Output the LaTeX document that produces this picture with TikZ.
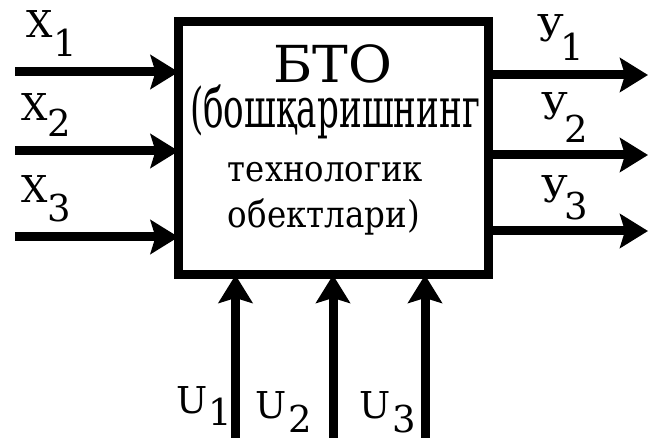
\documentclass[tikz,border=0pt]{standalone}
\usepackage{fontspec}
\usepackage{graphicx}
\setmainfont{DejaVu Serif}
\usetikzlibrary{arrows.meta}

\tikzset{
  blockbox/.style={draw, line width=9pt, minimum width=309.5pt, minimum height=253.5pt,
    outer sep=0pt, inner sep=0pt},
  flow/.style={line width=9pt, -{Stealth[length=28pt, width=34pt, inset=5pt]}},
  lbl/.style={inner sep=0pt, outer sep=0pt, anchor=base west, font=\fontsize{37}{37}\selectfont},
  txt/.style={inner sep=0pt, outer sep=0pt, anchor=base}
}

\begin{document}
\begin{tikzpicture}[x=1pt, y=-1pt]
  \useasboundingbox (0,0) rectangle (648,438);

  % the object block
  \node[blockbox] (B) at (333.25,148.25) {};

  % text inside the block
  \node[txt] (t1) at (332.5,83)
    {\resizebox{119pt}{\height}{\fontsize{51}{51}\selectfont БТО}};
  \node[txt] (t2) at (335,128)
    {\resizebox{290pt}{\height}{\fontsize{55}{55}\selectfont (бошқаришнинг}};
  \node[txt] (t3) at (325.5,182)
    {\resizebox{195pt}{\height}{\fontsize{36}{36}\selectfont технологик}};
  \node[txt] (t4) at (324,228)
    {\resizebox{192pt}{\height}{\fontsize{37}{37}\selectfont обектлари)}};

  % input ends
  \coordinate (x1) at (15,72);
  \coordinate (x2) at (15,151);
  \coordinate (x3) at (15,237);
  \draw[flow] (x1) -- (x1 -| B.west);
  \draw[flow] (x2) -- (x2 -| B.west);
  \draw[flow] (x3) -- (x3 -| B.west);

  % output ends
  \coordinate (y1) at (648,75);
  \coordinate (y2) at (648,155);
  \coordinate (y3) at (648,231);
  \draw[flow] (y1 -| B.east) -- (y1);
  \draw[flow] (y2 -| B.east) -- (y2);
  \draw[flow] (y3 -| B.east) -- (y3);

  % control inputs from below
  \coordinate (u1) at (235.5,438);
  \coordinate (u2) at (333,438);
  \coordinate (u3) at (425,438);
  \draw[flow] (u1) -- (u1 |- B.south);
  \draw[flow] (u2) -- (u2 |- B.south);
  \draw[flow] (u3) -- (u3 |- B.south);

  % signal labels
  \node[lbl] (lx1) at (27,38) {X\raisebox{-19pt}{1}};
  \node[lbl] (lx2) at (21,121) {X\raisebox{-16pt}{2}};
  \node[lbl] (lx3) at (21,203) {X\raisebox{-19pt}{3}};

  \node[lbl] (ly1) at (537,42) {У\kern-3pt\raisebox{-19pt}{1}};
  \node[lbl] (ly2) at (541,120) {У\kern-3pt\raisebox{-23pt}{2}};
  \node[lbl] (ly3) at (541,203) {У\kern-3pt\raisebox{-17pt}{3}};

  \node[lbl] (lu1) at (176,413) {U\kern1pt\raisebox{-13pt}{1}};
  \node[lbl] (lu2) at (255,418) {U\kern2pt\raisebox{-14pt}{2}};
  \node[lbl] (lu3) at (359,418) {U\kern2pt\raisebox{-14pt}{3}};
\end{tikzpicture}
\end{document}
